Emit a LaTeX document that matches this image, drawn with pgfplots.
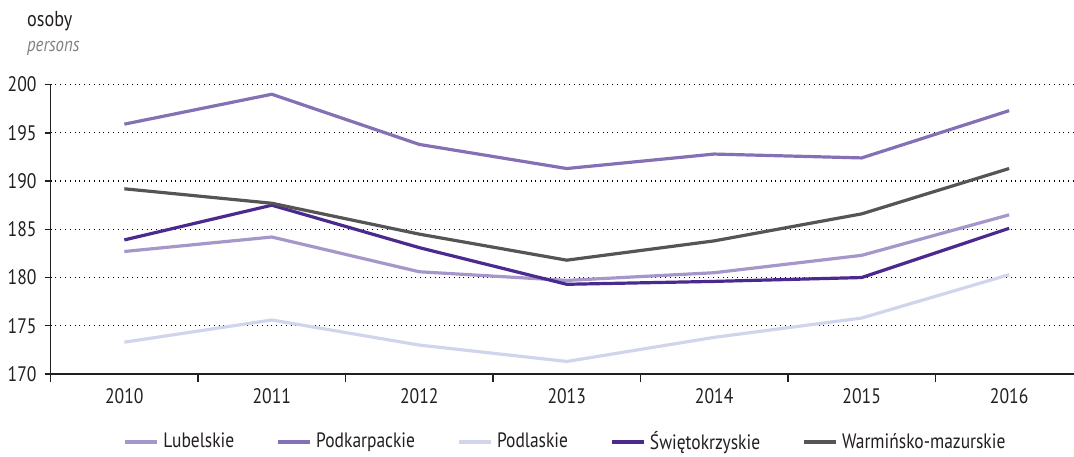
\documentclass[border=0pt]{standalone}
\usepackage{fontspec}
\setmainfont{PT Sans}[FakeStretch=0.84]
\usepackage{pgfplots}
\pgfplotsset{compat=1.18}
\definecolor{club}{HTML}{A597CA}
\definecolor{cpkr}{HTML}{8470B4}
\definecolor{cpdl}{HTML}{D0D5EC}
\definecolor{cswk}{HTML}{4A2A8E}
\definecolor{cwrm}{HTML}{555555}
\definecolor{ctxt}{HTML}{231F20}
\begin{document}
\begin{tikzpicture}
\begin{axis}[
  name=ax,
  scale only axis,
  width=511.7pt, height=144.7pt,
  xmin=-0.5, xmax=6.44,
  ymin=170, ymax=200,
  axis x line=bottom, axis y line=left,
  axis line style={-, line width=0.7pt, color=ctxt},
  xtick={0,...,6},
  xticklabels={2010,2011,2012,2013,2014,2015,2016},
  minor xtick={-0.5,0.5,1.5,2.5,3.5,4.5,5.5},
  ytick={170,175,...,200},
  tick align=outside,
  major x tick style={draw=none},
  minor x tick style={line width=0.7pt, color=ctxt},
  minor tick length=4pt,
  major tick length=3pt,
  y tick style={line width=0.7pt, color=ctxt},
  ymajorgrids,
  major grid style={dotted, line width=0.6pt, color=black},
  xmajorgrids=false,
  xminorgrids=false,
  ticklabel style={font=\fontsize{10.5}{12}\selectfont, color=ctxt},
  /pgf/number format/assume math mode=true,
  yticklabel style={xshift=-0.5pt},
  xticklabel style={yshift=-0.5pt},
  legend columns=5,
  legend style={at={(0.504,-0.235)}, anchor=center, draw=none,
    font=\fontsize{10.4}{12}\selectfont, text=ctxt,
    /tikz/every even column/.append style={column sep=19pt}},
  legend image code/.code={\draw[#1, line width=2pt] (0pt,0pt) -- (16pt,0pt);},
  every axis plot/.append style={line width=1.6pt},
  clip=false,
]
\addplot[club] coordinates {(0,182.7) (1,184.2) (2,180.6) (3,179.7) (4,180.5) (5,182.3) (6,186.5)};
\addlegendentry{Lubelskie}
\addplot[cpkr] coordinates {(0,195.9) (1,199.0) (2,193.8) (3,191.3) (4,192.8) (5,192.4) (6,197.3)};
\addlegendentry{Podkarpackie}
\addplot[cpdl] coordinates {(0,173.3) (1,175.6) (2,173.0) (3,171.3) (4,173.8) (5,175.8) (6,180.3)};
\addlegendentry{Podlaskie}
\addplot[cswk] coordinates {(0,183.9) (1,187.5) (2,183.1) (3,179.3) (4,179.6) (5,180.0) (6,185.1)};
\addlegendentry{Świętokrzyskie}
\addplot[cwrm] coordinates {(0,189.2) (1,187.7) (2,184.5) (3,181.8) (4,183.8) (5,186.6) (6,191.3)};
\addlegendentry{Warmińsko-mazurskie}
\end{axis}
\pgfresetboundingbox
\useasboundingbox ([xshift=-25.3pt, yshift=-41pt]ax.south west) rectangle ([yshift=42.3pt]ax.north east);
\node[anchor=base west, inner sep=0pt, font=\fontsize{10.8}{12}\selectfont, text=ctxt] at ([xshift=-11.9pt, yshift=29pt]ax.north west) {osoby};
\node[anchor=base west, inner sep=0pt, font=\fontsize{10}{12}\selectfont\itshape, text=gray] at ([xshift=-11.9pt, yshift=16.4pt]ax.north west) {persons};
\end{tikzpicture}
\end{document}
